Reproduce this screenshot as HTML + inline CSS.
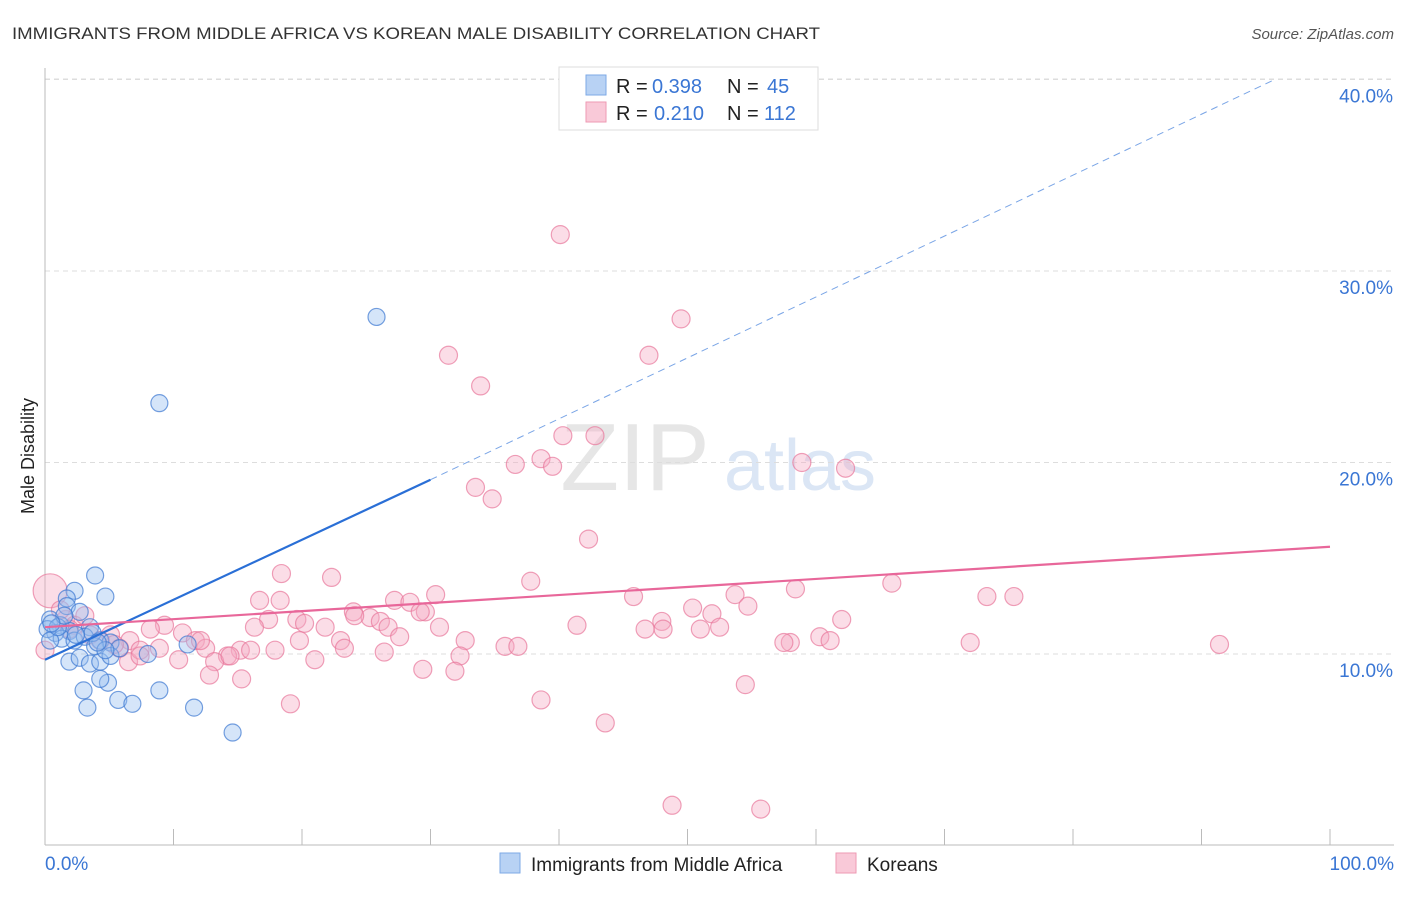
<!DOCTYPE html>
<html><head><meta charset="utf-8"><style>
body{margin:0;background:#fff;font-family:"Liberation Sans",sans-serif}
svg text{font-family:"Liberation Sans",sans-serif}
</style></head><body>
<svg id="chart" width="1406" height="892">
<text x="12" y="39" font-size="17" fill="#333" textLength="808" lengthAdjust="spacingAndGlyphs">IMMIGRANTS FROM MIDDLE AFRICA VS KOREAN MALE DISABILITY CORRELATION CHART</text>
<text x="1394" y="39" font-size="15" fill="#555" font-style="italic" text-anchor="end">Source: ZipAtlas.com</text>
<text x="635" y="490" font-size="96" fill="#e6e6e6" font-family="Liberation Serif" text-anchor="middle">ZIP</text>
<text x="800" y="490" font-size="72" fill="#dbe6f5" text-anchor="middle">atlas</text>
<g id="grid"></g>
<g id="axes"></g>
<g id="pts"></g>
<g id="lines"></g>
<text transform="translate(34,456) rotate(-90)" font-size="18" fill="#222" text-anchor="middle">Male Disability</text>
<g>
<rect x="559" y="67" width="259" height="63" fill="#fff" stroke="#ddd"/>
<rect x="586" y="75" width="20" height="20" fill="#b8d2f4" stroke="#7ea9e6"/>
<text x="616" y="93" font-size="20" fill="#222">R =</text>
<text x="652" y="93" font-size="20" fill="#3a76d4">0.398</text>
<text x="727" y="93" font-size="20" fill="#222">N =</text>
<text x="767" y="93" font-size="20" fill="#3a76d4">45</text>
<rect x="586" y="102" width="20" height="20" fill="#f9c9d8" stroke="#ee9ab3"/>
<text x="616" y="120" font-size="20" fill="#222">R =</text>
<text x="654" y="120" font-size="20" fill="#3a76d4">0.210</text>
<text x="727" y="120" font-size="20" fill="#222">N =</text>
<text x="764" y="120" font-size="20" fill="#3a76d4">112</text>
</g>
<g>
<rect x="500" y="853" width="20" height="20" fill="#b8d2f4" stroke="#7ea9e6"/>
<text x="531" y="871" font-size="19" fill="#222">Immigrants from Middle Africa</text>
<rect x="836" y="853" width="20" height="20" fill="#f9c9d8" stroke="#ee9ab3"/>
<text x="867" y="871" font-size="19" fill="#222">Koreans</text>
</g>
</svg>
<script>
const blueX=[25.8,8.9,3.9,2.3,4.7,1.7,1.7,2.7,0.4,1.2,1.9,3.5,4.3,5.1,1.9,2.7,3.5,4.3,5.1,8.0,11.1,3.0,4.9,4.3,3.3,5.7,6.8,8.9,11.6,14.6,0.8,0.2,1.3,2.3,3.1,3.9,0.4,1.0,3.7,5.8,2.4,1.5,0.5,4.7,4.1];
const blueY=[27.6,23.1,14.1,13.3,13.0,12.9,12.5,12.2,11.8,11.5,11.2,11.4,10.7,10.6,9.6,9.8,9.5,9.6,9.9,10.0,10.5,8.1,8.5,8.7,7.2,7.6,7.4,8.1,7.2,5.9,11.1,11.3,10.8,10.7,10.9,10.4,10.7,11.4,11.1,10.3,11.0,12.0,11.6,10.2,10.6];
const pinkX=[40.1,49.5,31.4,47.0,33.9,40.3,42.8,36.6,38.6,39.5,58.9,62.3,33.5,34.8,42.3,18.4,22.3,37.8,30.4,45.8,53.7,58.4,65.9,73.3,75.4,16.7,27.2,28.4,29.6,24.0,25.3,26.1,26.7,19.6,20.2,17.4,16.3,50.4,51.9,54.7,62.0,48.0,41.4,46.7,48.1,51.0,52.5,9.3,10.7,8.2,6.6,5.1,11.7,12.5,15.2,14.2,17.9,21.8,23.0,23.3,27.6,30.7,32.7,35.8,36.8,26.4,32.3,60.3,61.1,58.0,57.5,72.0,91.4,13.2,10.4,6.5,12.8,15.3,19.1,29.4,31.9,38.6,43.6,54.5,48.8,55.7,0.4,1.6,2.3,3.5,4.3,5.8,7.4,1.2,1.9,5.4,8.9,14.4,21.0,12.1,18.3,16.0,19.8,24.1,29.2,0.0,7.4,3.1];
const pinkY=[31.9,27.5,25.6,25.6,24.0,21.4,21.4,19.9,20.2,19.8,20.0,19.7,18.7,18.1,16.0,14.2,14.0,13.8,13.1,13.0,13.1,13.4,13.7,13.0,13.0,12.8,12.8,12.7,12.2,12.2,11.9,11.7,11.4,11.8,11.6,11.8,11.4,12.4,12.1,12.5,11.8,11.7,11.5,11.3,11.3,11.3,11.4,11.5,11.1,11.3,10.7,11.0,10.7,10.3,10.2,9.9,10.2,11.4,10.7,10.3,10.9,11.4,10.7,10.4,10.4,10.1,9.9,10.9,10.7,10.6,10.6,10.6,10.5,9.6,9.7,9.6,8.9,8.7,7.4,9.2,9.1,7.6,6.4,8.4,2.1,1.9,13.3,11.8,11.5,11.0,10.7,10.3,10.2,12.3,11.3,10.5,10.3,9.9,9.7,10.7,12.8,10.2,10.7,12.0,12.2,10.2,9.9,12.0];
const yTicks=[10,20,30,40];
const yTickLabels=["10.0%","20.0%","30.0%","40.0%"];
const xTicks=[0,10,20,30,40,50,60,70,80,90,100];
const blueTrend=[[0,9.7],[30,19.1],[95.7,40.0]];
const pinkTrend=[[0,11.4],[100,15.6]];
const NS="http://www.w3.org/2000/svg";
const X=v=>45+v*12.85, Y=v=>845.5-v*19.15;
function mk(t,a,p){const e=document.createElementNS(NS,t);for(const k in a)e.setAttribute(k,a[k]);document.getElementById(p).appendChild(e);return e;}
yTicks.forEach((t,i)=>{
 const l=mk('line',{x1:45,x2:1394,y1:Y(t),y2:Y(t),stroke:'#ddd','stroke-dasharray':'5,4'},'grid');
 
 
 const tx=mk('text',{x:1393,y:Y(t)+23,'font-size':19,fill:'#3a76d4','text-anchor':'end'},'grid');tx.textContent=yTickLabels[i];
 
 
});
const tl=mk('line',{x1:45,x2:1394,y1:79,y2:79,stroke:'#ddd','stroke-dasharray':'5,4'},'grid');


const ya=mk('line',{x1:45,x2:45,y1:68,y2:845,stroke:'#bbb'},'axes');


const xa=mk('line',{x1:45,x2:1394,y1:845,y2:845,stroke:'#bbb'},'axes');


xTicks.forEach(t=>{const l=mk('line',{x1:X(t),x2:X(t),y1:829,y2:845,stroke:'#bbb'},'axes');
 
 });
let a=mk('text',{x:45,y:870,'font-size':19,fill:'#3a76d4'},'axes');a.textContent='0.0%';


a=mk('text',{x:1394,y:870,'font-size':19,fill:'#3a76d4','text-anchor':'end'},'axes');a.textContent='100.0%';


pinkX.forEach((v,i)=>{const r=(i==86)?17:9;const c=mk('circle',{cx:X(v),cy:Y(pinkY[i]),r:r,fill:'rgba(246,170,195,0.4)',stroke:'rgba(232,120,155,0.7)','stroke-width':1.2},'pts');
 
 });
blueX.forEach((v,i)=>{const c=mk('circle',{cx:X(v),cy:Y(blueY[i]),r:8.5,fill:'rgba(150,190,240,0.4)',stroke:'rgba(60,120,210,0.7)','stroke-width':1.2},'pts');
 
 });
let l=mk('line',{x1:X(blueTrend[0][0]),y1:Y(blueTrend[0][1]),x2:X(blueTrend[1][0]),y2:Y(blueTrend[1][1]),stroke:'#2a6fd6','stroke-width':2.2},'lines');


l=mk('line',{x1:X(blueTrend[1][0]),y1:Y(blueTrend[1][1]),x2:X(blueTrend[2][0]),y2:Y(blueTrend[2][1]),stroke:'#7aa5e6','stroke-width':1,'stroke-dasharray':'7,5'},'lines');


l=mk('line',{x1:X(pinkTrend[0][0]),y1:Y(pinkTrend[0][1]),x2:X(pinkTrend[1][0]),y2:Y(pinkTrend[1][1]),stroke:'#e8679a','stroke-width':2.2},'lines');


</script>
</body></html>
